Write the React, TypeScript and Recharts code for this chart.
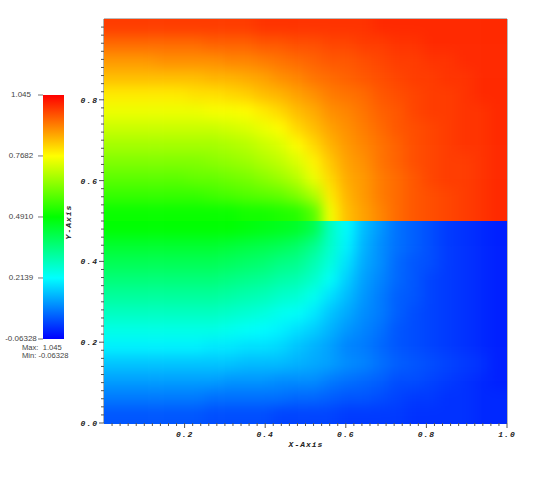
import React from "react";
import { ScatterChart, Scatter, XAxis, YAxis, ReferenceLine, BarChart, Bar } from "recharts";

const xCenters = [.021,.063,.104,.146,.188,.229,.271,.313,.354,.396,.438,.479,.521,.563,.604,.646,.688,.729,.771,.813,.854,.896,.938,.979];
const upperY = [.979,.938,.896,.854,.813,.771,.729,.688,.646,.604,.563,.521];
const lowerY = [.479,.438,.396,.354,.313,.271,.229,.188,.146,.104,.063,.021];

const upperRows = [
[.98,.98,.98,.98,.98,.98,.98,.98,.98,.99,.99,.99,.99,.99,.99,.99,1,1,1,1,1,1,1,1],
[.93,.93,.93,.93,.93,.93,.94,.94,.94,.95,.95,.96,.96,.97,.97,.98,.98,.99,.99,1,1,1,1,1],
[.88,.88,.88,.89,.89,.89,.89,.90,.90,.91,.92,.93,.94,.95,.95,.96,.97,.98,.98,.99,.99,1,1,1],
[.84,.84,.84,.84,.84,.84,.85,.85,.86,.87,.89,.90,.92,.93,.94,.95,.96,.97,.98,.98,.99,.99,1,1],
[.79,.79,.79,.79,.79,.80,.80,.81,.82,.84,.85,.87,.89,.91,.92,.93,.95,.96,.97,.98,.98,.99,1,1],
[.75,.75,.75,.75,.75,.75,.76,.76,.77,.79,.81,.84,.86,.89,.90,.92,.94,.95,.97,.98,.98,.99,.99,1],
[.71,.71,.71,.71,.71,.71,.71,.72,.73,.75,.77,.81,.84,.87,.89,.91,.93,.95,.96,.97,.98,.99,.99,1],
[.67,.67,.67,.67,.67,.67,.67,.68,.69,.71,.73,.77,.81,.85,.88,.90,.92,.94,.96,.97,.98,.99,.99,1],
[.63,.63,.63,.63,.63,.63,.64,.65,.66,.68,.70,.73,.78,.83,.87,.89,.92,.94,.96,.97,.98,.98,.99,1],
[.59,.59,.59,.59,.59,.60,.60,.61,.62,.64,.66,.69,.75,.81,.86,.88,.91,.93,.95,.97,.98,.98,.99,1],
[.55,.55,.55,.55,.55,.55,.56,.57,.58,.59,.60,.63,.68,.79,.85,.88,.91,.93,.95,.96,.97,.98,.99,1],
[.50,.50,.50,.50,.50,.50,.50,.50,.51,.51,.52,.53,.58,.76,.84,.87,.90,.93,.95,.96,.97,.98,.99,1],
];
const lowerRows = [
[.49,.49,.49,.49,.49,.49,.49,.49,.48,.47,.46,.45,.41,.28,.21,.14,.10,.06,.04,.02,.00,-.01,-.02,-.03],
[.44,.44,.44,.44,.44,.44,.44,.43,.42,.41,.40,.38,.34,.27,.20,.13,.09,.06,.04,.02,.00,-.01,-.02,-.03],
[.40,.40,.40,.40,.40,.40,.40,.39,.38,.37,.35,.34,.30,.25,.18,.12,.09,.05,.03,.02,.00,-.01,-.02,-.03],
[.36,.36,.36,.36,.36,.36,.36,.35,.34,.33,.31,.30,.27,.22,.16,.11,.08,.05,.03,.01,.00,-.01,-.02,-.03],
[.32,.32,.32,.32,.32,.32,.32,.31,.30,.29,.27,.26,.23,.18,.14,.10,.07,.04,.03,.01,.00,-.01,-.02,-.03],
[.28,.28,.28,.28,.28,.28,.28,.27,.26,.25,.23,.22,.19,.15,.12,.09,.07,.04,.02,.01,.00,-.01,-.02,-.03],
[.24,.24,.24,.24,.24,.24,.24,.23,.22,.21,.20,.18,.16,.13,.10,.08,.06,.03,.02,.01,.00,-.01,-.02,-.03],
[.20,.20,.20,.20,.20,.20,.19,.19,.18,.18,.17,.15,.13,.11,.08,.07,.05,.03,.02,.01,.00,-.01,-.02,-.03],
[.15,.15,.15,.15,.15,.15,.15,.15,.14,.14,.14,.13,.12,.11,.09,.08,.06,.04,.03,.02,.01,.00,-.01,-.03],
[.11,.11,.11,.11,.11,.11,.11,.10,.10,.10,.09,.09,.09,.07,.06,.05,.04,.02,.02,.01,.00,-.01,-.02,-.03],
[.07,.07,.07,.07,.07,.07,.06,.06,.06,.06,.06,.05,.05,.04,.03,.03,.02,.01,.00,.00,-.01,-.01,-.02,-.02],
[.03,.03,.03,.03,.03,.03,.02,.02,.02,.02,.01,.01,.01,.01,.00,.00,.00,.00,-.01,-.01,-.01,-.01,-.02,-.02],
];

const xTicks = [.02,.04,.06,.08,.1,.12,.14,.16,.18,.2,.22,.24,.26,.28,.3,.32,.34,.36,.38,.4,.42,.44,.46,.48,.5,.52,.54,.56,.58,.6,.62,.64,.66,.68,.7,.72,.74,.76,.78,.8,.82,.84,.86,.88,.9,.92,.94,.96,.98,1];
const yTicks = [0,.02,.04,.06,.08,.1,.12,.14,.16,.18,.2,.22,.24,.26,.28,.3,.32,.34,.36,.38,.4,.42,.44,.46,.48,.5,.52,.54,.56,.58,.6,.62,.64,.66,.68,.7,.72,.74,.76,.78,.8,.82,.84,.86,.88,.9,.92,.94,.96,.98];
const majorTicks = [0,.2,.4,.6,.8,1];

const scaleMin = -0.06328;
const scaleMax = 1.045;
const barTicks = [-0.06328, 0.2139, 0.491, 0.7682, 1.045];
const barLabels = ["-0.06328", "0.2139", "0.4910", "0.7682", "1.045"];
const palette = ["#0000ff", "#00ffff", "#00ff00", "#ffff00", "#ff0000"];
const paletteRgb = [[0,0,255],[0,255,255],[0,255,0],[255,255,0],[255,0,0]];

const colorOf = (v: number) => {
  const t = Math.max(0, Math.min(0.9999, (v - scaleMin) / (scaleMax - scaleMin))) * 4;
  const i = Math.floor(t);
  const f = t - i;
  const a = paletteRgb[i], b = paletteRgb[i + 1];
  return `rgb(${a.map((c, k) => Math.round(c + (b[k] - c) * f)).join(",")})`;
};

const build = (ys: number[], rows: number[][]) =>
  ys.flatMap((y, j) => xCenters.map((x, i) => ({ x, y, v: rows[j][i] })));
const upperData = build(upperY, upperRows);
const lowerData = build(lowerY, lowerRows);

const CELL = 17.4;
const BLEED = 24;
const CellShape = (p: any) => {
  const { x, y, v } = p.payload;
  let l = p.cx - CELL / 2, r = p.cx + CELL / 2, t = p.cy - CELL / 2, b = p.cy + CELL / 2;
  if (x === xCenters[0]) l -= BLEED;
  if (x === xCenters[23]) r += BLEED;
  if (y === upperY[0] || y === lowerY[0]) t -= BLEED;
  if (y === upperY[11] || y === lowerY[11]) b += BLEED;
  return <rect x={l} y={t} width={r - l} height={b - t} fill={colorOf(v)} />;
};

const tickFont = { fontFamily: "Liberation Mono", fontWeight: 700, fontStyle: "italic", fontSize: 8, letterSpacing: 1, fill: "#222" } as const;
const isMajor = (v: number) => majorTicks.includes(v);

const XTick = (p: any) => {
  const major = isMajor(p.payload.value);
  return (
    <g>
      <line x1={p.x} x2={p.x} y1={p.y} y2={p.y + (major ? 5 : 3)} stroke="#555" />
      {major && <text x={p.x} y={p.y + 14} textAnchor="middle" {...tickFont}>{p.payload.value.toFixed(1)}</text>}
    </g>
  );
};
const YTick = (p: any) => {
  const major = isMajor(p.payload.value);
  return (
    <g>
      <line x1={p.x - (major ? 5 : 3)} x2={p.x} y1={p.y} y2={p.y} stroke="#555" />
      {major && <text x={p.x - 6} y={p.y + 3} textAnchor="end" {...tickFont}>{p.payload.value.toFixed(1)}</text>}
    </g>
  );
};

const barData = [{ name: "scale", range: [scaleMin, scaleMax] }];
const smallFont = { fontFamily: "Liberation Sans", fontSize: 8, fill: "#444" };
const statFont = { fontFamily: "Liberation Sans", fontSize: 7.6, fill: "#444" };

const BarTick = (p: any) => (
  <text x={21} y={p.y + 2} textAnchor="middle" {...smallFont}>{barLabels[barTicks.indexOf(p.payload.value)]}</text>
);

export default function App() {
  return (
    <div style={{ position: "fixed", left: 0, top: 0, width: 538, height: 494, background: "#fff" }}>
      <style>{`.hm-top{filter:url(#hmBlur);clip-path:url(#clipTop)}.hm-bottom{filter:url(#hmBlur);clip-path:url(#clipBottom)}`}</style>
      <div style={{ position: "absolute", left: 0, top: 0 }}>
        <ScatterChart width={538} height={494} margin={{ left: 103, top: 19, right: 31, bottom: 70 }}>
          <defs>
            <filter id="hmBlur" filterUnits="userSpaceOnUse" x="60" y="-30" width="500" height="500" colorInterpolationFilters="sRGB">
              <feGaussianBlur stdDeviation="6.5" />
            </filter>
            <clipPath id="clipTop"><rect x={104} y={19} width={403} height={202} /></clipPath>
            <clipPath id="clipBottom"><rect x={104} y={221} width={403} height={203} /></clipPath>
          </defs>
          <XAxis type="number" dataKey="x" domain={[0, 1]} ticks={xTicks} interval={0} height={1} tickLine={false} tickSize={0} tickMargin={0} tick={<XTick />} stroke="#555" />
          <YAxis type="number" dataKey="y" domain={[0, 1]} ticks={yTicks} interval={0} width={1} tickLine={false} tickSize={0} tickMargin={0} tick={<YTick />} stroke="#666" />
          <Scatter data={upperData} className="hm-top" isAnimationActive={false} shape={CellShape} />
          <Scatter data={lowerData} className="hm-bottom" isAnimationActive={false} shape={CellShape} />
          <ReferenceLine x={1} stroke="#777" />
          <ReferenceLine y={1} stroke="#777" />
          <text x={306} y={447} textAnchor="middle" {...tickFont}>X-Axis</text>
          <text x={71} y={222} textAnchor="middle" transform="rotate(-90 71 222)" {...tickFont}>Y-Axis</text>
          <text x={22} y={350} {...statFont} xmlSpace="preserve">Max:  1.045</text>
          <text x={22} y={358} {...statFont}>Min: -0.06328</text>
        </ScatterChart>
      </div>
      <div style={{ position: "absolute", left: 0, top: 80 }}>
        <BarChart width={70} height={276} data={barData} margin={{ left: 0, top: 15, right: 6, bottom: 17 }} barCategoryGap={0}>
          <defs>
            <linearGradient id="barGrad" x1="0" y1="1" x2="0" y2="0">
              {palette.map((c, i) => <stop key={c} offset={`${i * 25}%`} stopColor={c} />)}
            </linearGradient>
          </defs>
          <XAxis dataKey="name" hide />
          <YAxis type="number" domain={[scaleMin, scaleMax]} ticks={barTicks} interval={0} width={43} axisLine={false} tickSize={5} tickMargin={2} tickLine={{ stroke: "#777" }} tick={<BarTick />} />
          <Bar dataKey="range" fill="url(#barGrad)" isAnimationActive={false} />
        </BarChart>
      </div>
    </div>
  );
}
